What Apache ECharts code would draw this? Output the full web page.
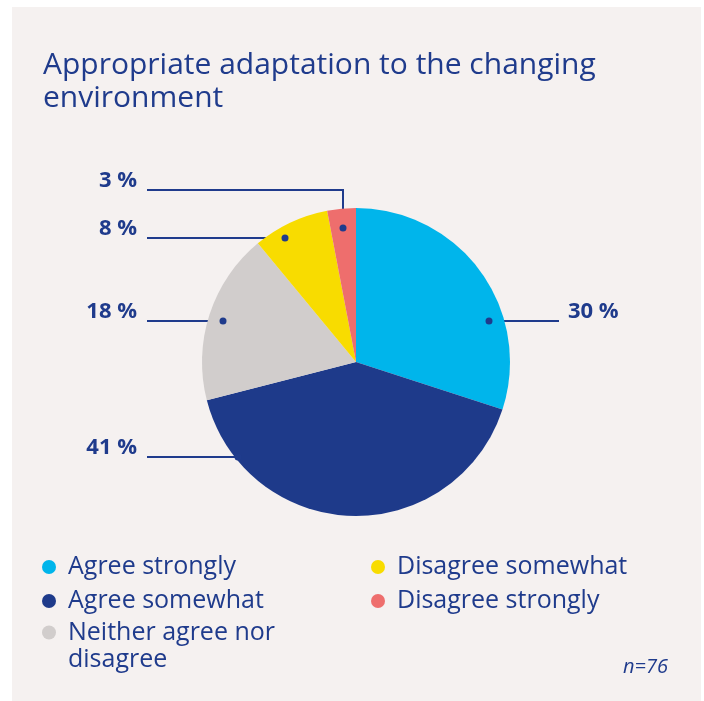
<!DOCTYPE html>
<html>
<head>
<meta charset="utf-8">
<script src="https://cdn.jsdelivr.net/npm/echarts@6/dist/echarts.min.js"></script>
<style>
  html, body { margin: 0; padding: 0; background: #ffffff; }
  #chart { width: 704px; height: 701px; }
</style>
</head>
<body>
<div id="chart"></div>
<script>
// Survey answers and their shares (percent)
const categories = [
  'Agree strongly',
  'Agree somewhat',
  'Neither agree nor disagree',
  'Disagree somewhat',
  'Disagree strongly'
];
const shares = [30, 41, 18, 8, 3];
const sliceColors = ['#00b5eb', '#1e3a8a', '#d1cdcc', '#f8dc00', '#ee6e6d'];
const titleText = 'Appropriate adaptation to the changing\nenvironment';
const sampleNote = 'n=76';

// Layout constants
const CX = 356, CY = 362, R = 154;
const INK = '#1f3b8c';
const FONT = '"Open Sans", Lato, sans-serif';

// Leader line anchors, offsets from the pie centre (dot inside each slice)
const leaderAnchors = [
  { dx: 133, dy: -41, side: 'right' },
  { dx: -118, dy: 95, side: 'left' },
  { dx: -133, dy: -41, side: 'left' },
  { dx: -71, dy: -124, side: 'left' },
  { dx: -13, dy: -134, side: 'left', elbowDy: -172 }
];
const LEFT_END = CX - 209, RIGHT_END = CX + 203;

const chart = echarts.init(document.getElementById('chart'), null, { renderer: 'canvas' });

const pieData = categories.map((name, i) => ({
  name: name,
  value: shares[i],
  itemStyle: { color: sliceColors[i] }
}));

const dotGraphics = leaderAnchors.map(a => ({
  type: 'circle',
  silent: true,
  z: 100,
  shape: { cx: CX + a.dx, cy: CY + a.dy, r: 3.5 },
  style: { fill: INK }
}));

const legendBase = {
  orient: 'vertical',
  icon: 'circle',
  itemWidth: 28,
  itemHeight: 14,
  itemGap: 6,
  padding: 0,
  height: 220,
  selectedMode: false,
  textStyle: { color: INK, fontSize: 25, fontFamily: FONT, lineHeight: 28 }
};

const option = {
  backgroundColor: '#ffffff',
  animation: false,
  title: {
    text: titleText,
    left: 43,
    top: 49,
    padding: 0,
    textStyle: {
      color: INK,
      fontSize: 30,
      fontWeight: 500,
      fontFamily: FONT,
      lineHeight: 33
    }
  },
  legend: [
    Object.assign({}, legendBase, {
      left: 42,
      top: 553,
      data: [categories[0], categories[1]]
    }),
    // two-line entry: an empty leading line keeps the dot beside the first text line
    Object.assign({}, legendBase, {
      left: 42,
      top: 592,
      data: [categories[2]],
      textStyle: Object.assign({}, legendBase.textStyle, { lineHeight: 27 }),
      formatter: name => '\n' + name.replace(' nor ', ' nor\n')
    }),
    Object.assign({}, legendBase, {
      left: 371,
      top: 553,
      data: [categories[3], categories[4]]
    })
  ],
  graphic: [
    {
      type: 'rect',
      silent: true,
      z: -10,
      shape: { x: 12, y: 7, width: 689, height: 694 },
      style: { fill: '#f5f1f0' }
    },
    {
      type: 'text',
      silent: true,
      style: {
        x: 668, y: 667,
        text: sampleNote,
        fill: INK,
        font: 'italic 20px ' + FONT,
        align: 'right',
        verticalAlign: 'middle'
      }
    }
  ].concat(dotGraphics),
  series: [
    {
      type: 'pie',
      center: [CX, CY],
      radius: [0, R],
      startAngle: 90,
      clockwise: true,
      data: pieData,
      itemStyle: { borderWidth: 0 },
      emphasis: { disabled: true },
      label: {
        show: true,
        position: 'outside',
        formatter: p => p.value + ' %',
        color: INK,
        fontSize: 22,
        fontWeight: 'bold',
        fontFamily: FONT
      },
      labelLine: {
        show: true,
        smooth: false,
        lineStyle: { color: INK, width: 2 }
      },
      labelLayout: function (p) {
        const a = leaderAnchors[p.dataIndex];
        const dotX = CX + a.dx, dotY = CY + a.dy;
        const lineY = a.elbowDy != null ? CY + a.elbowDy : dotY;
        const right = a.side === 'right';
        const endX = right ? RIGHT_END : LEFT_END;
        return {
          x: right ? endX + 9 : endX - 10,
          y: lineY - 9,
          align: right ? 'left' : 'right',
          verticalAlign: 'middle',
          labelLinePoints: [[dotX, dotY], [dotX, lineY], [endX, lineY]]
        };
      }
    }
  ]
};

chart.setOption(option);
</script>
</body>
</html>
